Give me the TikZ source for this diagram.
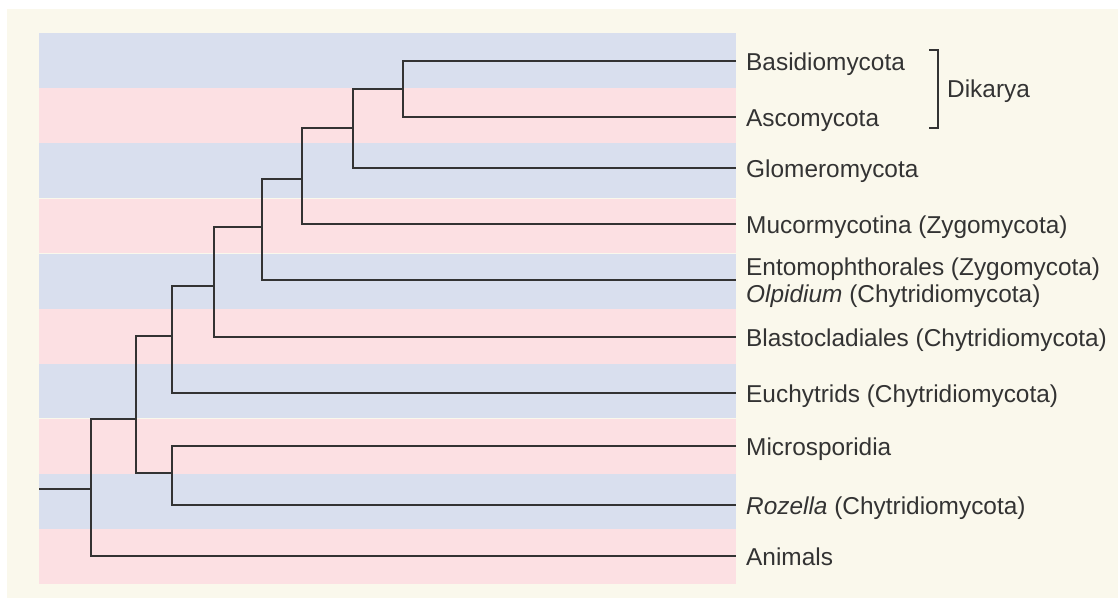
\documentclass[tikz,border=0pt]{standalone}
\usepackage{fontspec}
\setmainfont{Liberation Sans}
\usepackage{tikz}

\definecolor{paper}{RGB}{250,248,236}
\definecolor{bandblue}{RGB}{217,223,238}
\definecolor{bandpink}{RGB}{252,224,227}
\definecolor{ink}{RGB}{51,51,51}

\begin{document}
\begin{tikzpicture}[
            x=1pt,
            y=-1pt,
            branch/.style={
                draw=ink,
                line width=2.4pt,
                line join=miter
            },
            taxon/.style={
                anchor=base west,
                inner sep=0pt,
                text=ink,
                font=\fontsize{24.4}{27}\selectfont
            }
        ]
            \useasboundingbox (0,0) rectangle (1118,598);
            \fill[white] (0,0) rectangle (1118,598);
            \fill[paper] (7,9) rectangle (1118,598);

            \foreach \c [count=\i from 0] in {bandblue,bandpink,bandblue,bandpink,bandblue,bandpink,bandblue,bandpink,bandblue,bandpink}
                \fill[\c] (39,{33+55.1*\i}) rectangle (736,{88.1+55.1*\i});
            \foreach \g in {198.3,253.4,418.7}
                \draw[paper,line width=1.5pt] (39,\g) -- (736,\g);

            \coordinate (tBasi) at (736,61);
            \coordinate (tAsco) at (736,117);
            \coordinate (tGlom) at (736,168);
            \coordinate (tMuc) at (736,224);
            \coordinate (tEnto) at (736,280);
            \coordinate (tBlas) at (736,337);
            \coordinate (tEuch) at (736,393);
            \coordinate (tMicro) at (736,446);
            \coordinate (tRoz) at (736,505);
            \coordinate (tAnim) at (736,556);

            \coordinate (nDik) at (403,89);
            \coordinate (nGlom) at (353,128);
            \coordinate (nMuc) at (302,179);
            \coordinate (nEnto) at (262,227);
            \coordinate (nBlas) at (214,286);
            \coordinate (nEuch) at (172,336);
            \coordinate (nRoz) at (172,473);
            \coordinate (nFungi) at (136,419);
            \coordinate (nRoot) at (91,489);
            \coordinate (stem) at (39,489);

            \draw[branch] (tBasi) -| (nDik) |- (tAsco);
            \draw[branch] (nDik) -| (nGlom) |- (tGlom);
            \draw[branch] (nGlom) -| (nMuc) |- (tMuc);
            \draw[branch] (nMuc) -| (nEnto) |- (tEnto);
            \draw[branch] (nEnto) -| (nBlas) |- (tBlas);
            \draw[branch] (nBlas) -| (nEuch) |- (tEuch);
            \draw[branch] (tMicro) -| (nRoz) |- (tRoz);
            \draw[branch] (nEuch) -| (nFungi) |- (nRoz);
            \draw[branch] (nFungi) -| (nRoot) |- (tAnim);
            \draw[branch] (stem) -- (nRoot);

            \node[taxon] (lBasi) at (746,70) {Basidiomycota};
            \node[taxon] (lAsco) at (746,126) {Ascomycota};
            \node[taxon] (lGlom) at (746,177) {Glomeromycota};
            \node[taxon] (lMuc) at (746,233) {Mucormycotina (Zygomycota)};
            \node[taxon] (lEnto) at (746,275) {Entomophthorales (Zygomycota)};
            \node[taxon] (lOlp) at (746,302) {\textit{Olpidium} (Chytridiomycota)};
            \node[taxon] (lBlas) at (746,346) {Blastocladiales (Chytridiomycota)};
            \node[taxon] (lEuch) at (746,402) {Euchytrids (Chytridiomycota)};
            \node[taxon] (lMicro) at (746,455) {Microsporidia};
            \node[taxon] (lRoz) at (746,514) {\textit{Rozella} (Chytridiomycota)};
            \node[taxon] (lAnim) at (746,565) {Animals};

            \node[taxon] (lDik) at (947,97) {Dikarya};
            \coordinate (dTop) at (929,50);
            \coordinate (dBot) at (929,128);
            \draw[branch] (dTop) -- ([xshift=9pt]dTop) -- ([xshift=9pt]dBot) -- (dBot);
        \end{tikzpicture}
\end{document}
